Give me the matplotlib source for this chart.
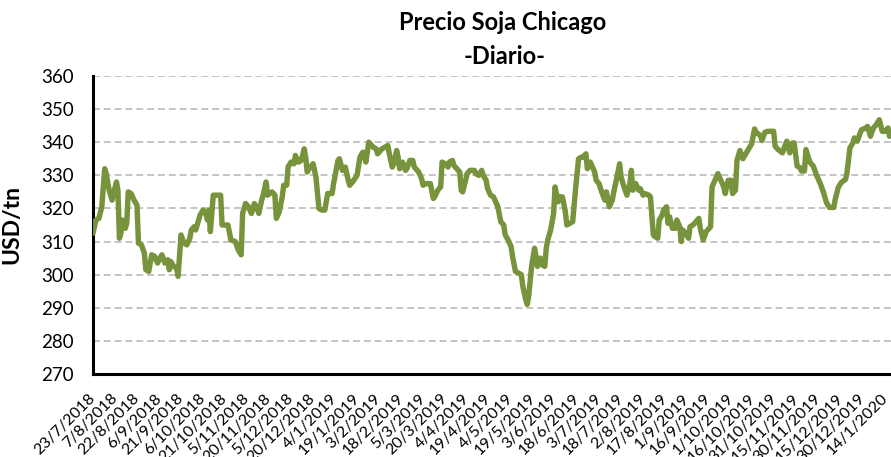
import matplotlib
matplotlib.use("Agg")
import matplotlib.pyplot as plt
import pandas as pd

plt.rcParams['font.family'] = ['Lato', 'DejaVu Sans']

title = "Precio Soja Chicago"
subtitle = "-Diario-"
ylabel = "USD/tn"

dates = [
    "2018-07-23", "2018-07-25", "2018-07-27", "2018-07-29", "2018-07-30", "2018-07-31", "2018-08-01", "2018-08-03",
    "2018-08-05", "2018-08-06", "2018-08-08", "2018-08-09", "2018-08-10", "2018-08-11", "2018-08-12", "2018-08-14",
    "2018-08-15", "2018-08-16", "2018-08-18", "2018-08-20", "2018-08-22", "2018-08-23", "2018-08-25", "2018-08-27",
    "2018-08-28", "2018-08-30", "2018-09-01", "2018-09-03", "2018-09-05", "2018-09-06", "2018-09-08", "2018-09-10",
    "2018-09-12", "2018-09-13", "2018-09-14", "2018-09-16", "2018-09-18", "2018-09-19", "2018-09-21", "2018-09-23",
    "2018-09-25", "2018-09-27", "2018-09-28", "2018-09-30", "2018-10-01", "2018-10-03", "2018-10-04", "2018-10-06",
    "2018-10-08", "2018-10-09", "2018-10-10", "2018-10-11", "2018-10-13", "2018-10-18", "2018-10-19", "2018-10-22",
    "2018-10-23", "2018-10-25", "2018-10-28", "2018-10-30", "2018-11-01", "2018-11-02", "2018-11-04", "2018-11-06",
    "2018-11-08", "2018-11-10", "2018-11-12", "2018-11-13", "2018-11-15", "2018-11-16", "2018-11-18", "2018-11-19",
    "2018-11-22", "2018-11-24", "2018-11-25", "2018-11-27", "2018-11-29", "2018-11-30", "2018-12-02", "2018-12-03",
    "2018-12-05", "2018-12-07", "2018-12-08", "2018-12-10", "2018-12-12", "2018-12-14", "2018-12-15", "2018-12-16",
    "2018-12-18", "2018-12-20", "2018-12-22", "2018-12-24", "2018-12-26", "2018-12-28", "2018-12-30", "2019-01-02",
    "2019-01-03", "2019-01-06", "2019-01-07", "2019-01-09", "2019-01-11", "2019-01-13", "2019-01-14", "2019-01-16",
    "2019-01-19", "2019-01-21", "2019-01-23", "2019-01-25", "2019-01-27", "2019-01-30", "2019-02-01", "2019-02-02",
    "2019-02-05", "2019-02-07", "2019-02-09", "2019-02-10", "2019-02-12", "2019-02-13", "2019-02-15", "2019-02-16",
    "2019-02-17", "2019-02-19", "2019-02-21", "2019-02-22", "2019-02-24", "2019-02-26", "2019-02-27", "2019-03-02",
    "2019-03-04", "2019-03-05", "2019-03-07", "2019-03-10", "2019-03-12", "2019-03-13", "2019-03-15", "2019-03-17",
    "2019-03-18", "2019-03-20", "2019-03-22", "2019-03-23", "2019-03-25", "2019-03-26", "2019-03-28", "2019-03-30",
    "2019-03-31", "2019-04-01", "2019-04-03", "2019-04-04", "2019-04-06", "2019-04-09", "2019-04-10", "2019-04-12",
    "2019-04-14", "2019-04-15", "2019-04-17", "2019-04-18", "2019-04-20", "2019-04-22", "2019-04-25", "2019-04-27",
    "2019-04-29", "2019-04-30", "2019-05-02", "2019-05-04", "2019-05-05", "2019-05-07", "2019-05-09", "2019-05-11",
    "2019-05-12", "2019-05-14", "2019-05-15", "2019-05-16", "2019-05-18", "2019-05-20", "2019-05-21", "2019-05-22",
    "2019-05-24", "2019-05-25", "2019-05-27", "2019-05-28", "2019-05-29", "2019-05-31", "2019-06-02", "2019-06-03",
    "2019-06-05", "2019-06-06", "2019-06-08", "2019-06-10", "2019-06-11", "2019-06-13", "2019-06-15", "2019-06-17",
    "2019-06-19", "2019-06-21", "2019-06-22", "2019-06-24", "2019-06-25", "2019-06-27", "2019-06-28", "2019-06-30",
    "2019-07-01", "2019-07-03", "2019-07-04", "2019-07-06", "2019-07-07", "2019-07-08", "2019-07-10", "2019-07-12",
    "2019-07-13", "2019-07-15", "2019-07-17", "2019-07-18", "2019-07-20", "2019-07-22", "2019-07-24", "2019-07-25",
    "2019-07-26", "2019-07-28", "2019-07-30", "2019-07-31", "2019-08-02", "2019-08-03", "2019-08-06", "2019-08-07",
    "2019-08-09", "2019-08-10", "2019-08-12", "2019-08-13", "2019-08-15", "2019-08-16", "2019-08-18", "2019-08-19",
    "2019-08-20", "2019-08-22", "2019-08-24", "2019-08-25", "2019-08-27", "2019-08-28", "2019-08-29", "2019-08-31",
    "2019-09-02", "2019-09-03", "2019-09-05", "2019-09-07", "2019-09-09", "2019-09-10", "2019-09-12", "2019-09-14",
    "2019-09-15", "2019-09-17", "2019-09-18", "2019-09-20", "2019-09-22", "2019-09-24", "2019-09-26", "2019-09-27",
    "2019-09-29", "2019-10-01", "2019-10-02", "2019-10-04", "2019-10-05", "2019-10-07", "2019-10-09", "2019-10-11",
    "2019-10-13", "2019-10-15", "2019-10-17", "2019-10-18", "2019-10-21", "2019-10-22", "2019-10-24", "2019-10-26",
    "2019-10-30", "2019-10-31", "2019-11-02", "2019-11-05", "2019-11-07", "2019-11-08", "2019-11-10", "2019-11-12",
    "2019-11-13", "2019-11-15", "2019-11-17", "2019-11-18", "2019-11-20", "2019-11-21", "2019-11-23", "2019-11-24",
    "2019-11-26", "2019-11-28", "2019-12-01", "2019-12-03", "2019-12-05", "2019-12-07", "2019-12-10", "2019-12-11",
    "2019-12-13", "2019-12-15", "2019-12-18", "2019-12-19", "2019-12-21", "2019-12-23", "2019-12-24", "2019-12-26",
    "2019-12-28", "2019-12-29", "2020-01-01", "2020-01-02", "2020-01-04", "2020-01-06", "2020-01-08", "2020-01-10",
    "2020-01-12", "2020-01-14", "2020-01-16", "2020-01-17",
]

prices = [
    312.5, 316.5, 317.0, 320.5, 326.5, 332.0, 330.5, 325.5,
    322.5, 324.5, 328.0, 325.5, 311.0, 312.5, 316.5, 314.0,
    315.5, 325.0, 324.5, 322.5, 321.0, 309.5, 309.0, 306.5,
    301.5, 301.0, 306.0, 305.5, 303.5, 304.5, 306.0, 303.5,
    304.5, 301.5, 304.0, 302.5, 302.0, 299.5, 312.0, 309.5,
    309.0, 311.0, 313.5, 314.5, 313.5, 316.5, 318.0, 319.5,
    318.5, 316.5, 319.5, 313.0, 324.0, 324.0, 315.0, 315.0,
    315.0, 310.5, 310.0, 307.5, 306.0, 318.5, 321.5, 320.5,
    318.5, 321.5, 320.0, 318.5, 322.5, 324.0, 328.0, 324.0,
    325.0, 324.0, 317.0, 319.0, 323.5, 327.0, 327.0, 332.5,
    334.0, 333.5, 336.0, 334.0, 334.5, 338.0, 335.5, 331.0,
    332.5, 333.5, 329.5, 320.0, 319.5, 319.5, 324.5, 324.5,
    327.5, 334.5, 335.0, 331.5, 332.5, 328.5, 327.0, 328.0,
    330.0, 335.5, 337.0, 334.0, 340.0, 338.5, 338.0, 336.5,
    338.0, 338.5, 339.0, 336.5, 332.5, 333.5, 337.5, 335.5,
    332.0, 334.0, 331.5, 332.0, 334.5, 334.5, 332.5, 331.0,
    329.0, 327.0, 327.5, 327.5, 323.0, 323.5, 325.5, 326.5,
    334.0, 333.5, 332.5, 334.0, 334.5, 333.0, 332.0, 331.0,
    325.5, 325.0, 328.5, 330.5, 331.5, 331.5, 330.5, 330.0,
    331.5, 330.0, 328.5, 326.0, 324.0, 323.5, 320.5, 316.0,
    315.0, 312.0, 310.5, 308.5, 305.5, 301.0, 300.5, 300.0,
    296.5, 292.5, 291.0, 293.5, 302.5, 308.0, 305.5, 302.5,
    305.0, 303.0, 302.5, 308.0, 310.5, 313.5, 318.5, 326.5,
    322.0, 323.5, 323.5, 319.0, 315.0, 315.5, 316.0, 326.0,
    335.0, 335.5, 335.5, 336.5, 332.0, 334.0, 333.0, 331.0,
    328.5, 327.5, 326.0, 323.5, 322.5, 325.0, 320.5, 322.5,
    325.0, 329.0, 333.5, 329.5, 326.5, 324.0, 327.5, 331.5,
    325.5, 327.5, 325.5, 326.0, 324.0, 324.5, 324.0, 323.5,
    312.0, 311.5, 311.0, 316.5, 318.0, 319.5, 320.5, 315.5,
    317.5, 314.0, 314.0, 316.5, 314.5, 310.0, 313.5, 312.5,
    311.0, 314.5, 315.0, 316.0, 317.0, 314.0, 310.5, 313.0,
    313.5, 314.5, 326.5, 328.5, 330.5, 328.5, 326.5, 324.5,
    328.5, 328.5, 324.5, 325.5, 334.5, 337.5, 335.0, 336.5,
    338.0, 339.5, 344.0, 343.0, 342.0, 340.5, 343.0, 343.3,
    343.3, 338.8, 337.8, 336.8, 339.3, 340.3, 336.8, 339.8,
    339.8, 332.8, 332.3, 331.3, 331.3, 337.8, 334.8, 333.8,
    332.8, 330.3, 327.3, 324.8, 321.8, 320.3, 320.3, 322.8,
    326.3, 327.8, 328.8, 330.8, 338.3, 339.8, 341.3, 340.3,
    342.8, 343.8, 344.3, 344.8, 341.8, 344.3, 345.3, 346.8,
    343.3, 343.3, 344.3, 341.8,
]

tick_start = "2018-07-23"
tick_end = "2020-01-14"
tick_step_days = 15
x_min = "2018-07-23"
x_max = "2020-01-18"
y_ticks = [270, 280, 290, 300, 310, 320, 330, 340, 350, 360]

x = pd.to_datetime(dates)
ticks = pd.date_range(tick_start, tick_end, freq=f"{tick_step_days}D")
tick_labels = [f"{d.day}/{d.month}/{d.year}" for d in ticks]

fig = plt.figure(figsize=(8.91, 4.57), dpi=100)
ax = fig.add_axes([93 / 891, 1 - 374 / 457, 1 - 93 / 891, (374 - 76) / 457])

ax.plot(x, prices, color="#77933C", linewidth=3.9, solid_joinstyle="round", solid_capstyle="round", zorder=3)

ax.set_xlim(pd.Timestamp(x_min), pd.Timestamp(x_max))
ax.set_ylim(y_ticks[0], y_ticks[-1])
ax.set_yticks(y_ticks)
ax.set_yticklabels([str(v) for v in y_ticks], fontsize=13.5)
ax.set_xticks(ticks)
ax.set_xticklabels(tick_labels, fontsize=11.5, rotation=45, ha="right", va="center",
                   rotation_mode="anchor")
ax.tick_params(axis="x", length=0, pad=16)
ax.tick_params(axis="y", length=0, pad=14)

ax.grid(axis="y", color="#BFBFBF", linestyle=(0, (3.8, 2.2)), linewidth=1.3, zorder=0)
ax.set_axisbelow(True)
for s in ["top", "right"]:
    ax.spines[s].set_visible(False)
ax.spines["left"].set_linewidth(2.2)
ax.spines["bottom"].set_linewidth(2.2)
ax.spines["left"].set_color("black")
ax.spines["bottom"].set_color("black")

ax.set_ylabel(ylabel, fontsize=16.5, fontweight="bold")
ax.yaxis.set_label_coords(-0.089, 0.5)

fig.text(503 / 891, 1 - 22 / 457, title, ha="center", va="center", fontsize=17, fontweight="bold")
fig.text(505 / 891, 1 - 56 / 457, subtitle, ha="center", va="center", fontsize=17, fontweight="bold")

fig.savefig("out.png", dpi=100)
